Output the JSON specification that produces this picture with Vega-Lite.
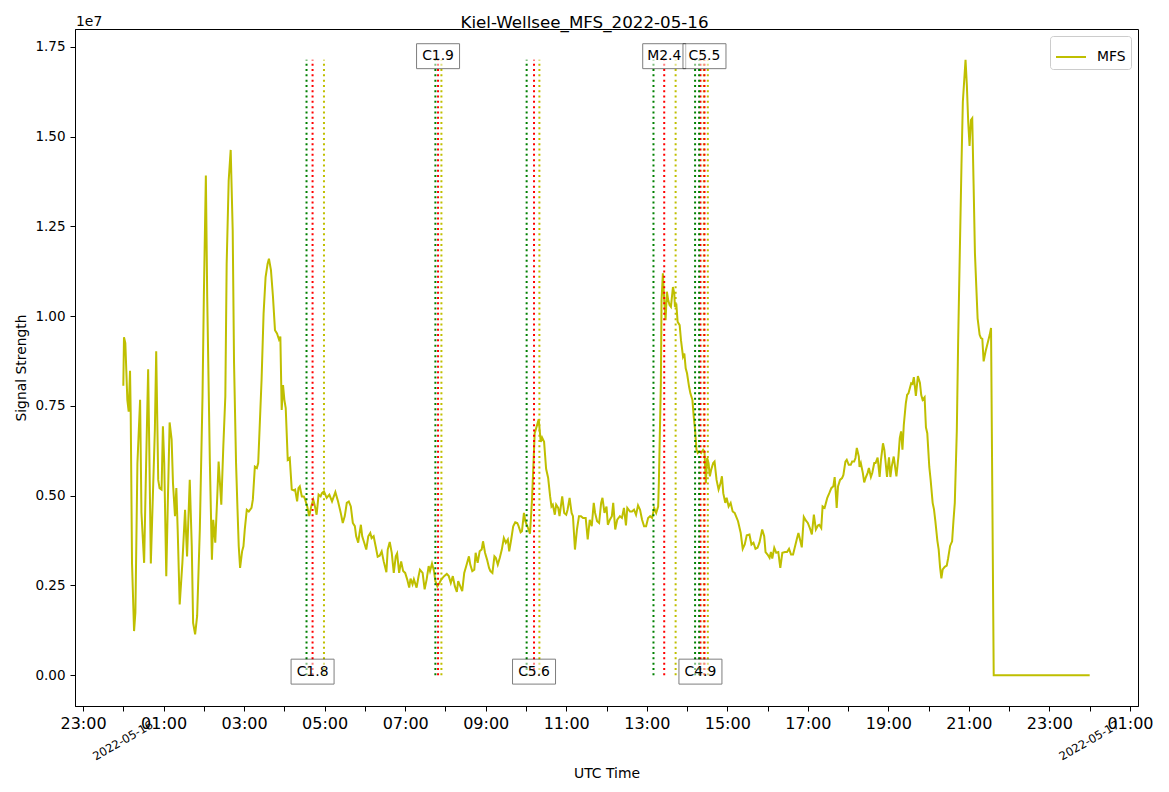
{
  "$schema": "https://vega.github.io/schema/vega-lite/v6.json",
  "width": 1063,
  "height": 677,
  "autosize": {"type": "none"},
  "padding": {"left": 75, "top": 29, "right": 31, "bottom": 86},
  "background": "white",
  "title": {
    "text": "Kiel-Wellsee_MFS_2022-05-16",
    "fontSize": 16.7,
    "fontWeight": "normal",
    "color": "black",
    "font": "DejaVu Sans",
    "anchor": "middle",
    "offset": 0,
    "dx": -22,
    "dy": 17
  },
  "datasets": {
    "signal": [
      {"m":0,"s":8060000},{"m":1,"s":9410000},{"m":3,"s":9250000},{"m":6,"s":7670000},{"m":8,"s":7340000},{"m":10,"s":8480000},{"m":11,"s":7300000},{"m":13,"s":3100000},{"m":16,"s":1230000},{"m":18,"s":1750000},{"m":21,"s":5900000},{"m":25,"s":7670000},{"m":27,"s":4530000},{"m":31,"s":3130000},{"m":34,"s":5900000},{"m":37,"s":8520000},{"m":39,"s":5900000},{"m":41,"s":3110000},{"m":44,"s":4980000},{"m":47,"s":6830000},{"m":49,"s":9020000},{"m":52,"s":5440000},{"m":54,"s":5210000},{"m":57,"s":5170000},{"m":59,"s":6930000},{"m":61,"s":5900000},{"m":64,"s":2760000},{"m":66,"s":4530000},{"m":69,"s":7040000},{"m":72,"s":6560000},{"m":74,"s":5350000},{"m":77,"s":4430000},{"m":79,"s":5210000},{"m":81,"s":4060000},{"m":84,"s":1970000},{"m":88,"s":3130000},{"m":92,"s":4610000},{"m":95,"s":3310000},{"m":99,"s":5440000},{"m":102,"s":3590000},{"m":104,"s":1460000},{"m":107,"s":1140000},{"m":110,"s":1650000},{"m":114,"s":4060000},{"m":118,"s":7760000},{"m":120,"s":10540000},{"m":123,"s":13920000},{"m":125,"s":10540000},{"m":129,"s":5900000},{"m":132,"s":3220000},{"m":134,"s":4330000},{"m":137,"s":3690000},{"m":140,"s":4980000},{"m":142,"s":5950000},{"m":146,"s":4750000},{"m":149,"s":6370000},{"m":152,"s":7760000},{"m":154,"s":11460000},{"m":157,"s":13780000},{"m":160,"s":14630000},{"m":163,"s":12390000},{"m":165,"s":8690000},{"m":168,"s":5900000},{"m":170,"s":4700000},{"m":172,"s":3590000},{"m":174,"s":2990000},{"m":177,"s":3450000},{"m":179,"s":3590000},{"m":181,"s":4060000},{"m":184,"s":4610000},{"m":187,"s":4560000},{"m":191,"s":4660000},{"m":193,"s":4890000},{"m":196,"s":5810000},{"m":199,"s":5770000},{"m":201,"s":5910000},{"m":203,"s":6830000},{"m":206,"s":8220000},{"m":209,"s":10070000},{"m":212,"s":11090000},{"m":215,"s":11460000},{"m":217,"s":11600000},{"m":220,"s":11280000},{"m":223,"s":10540000},{"m":226,"s":9610000},{"m":229,"s":9520000},{"m":232,"s":9350000},{"m":234,"s":9430000},{"m":236,"s":7390000},{"m":238,"s":8080000},{"m":240,"s":7670000},{"m":242,"s":7440000},{"m":245,"s":6000000},{"m":248,"s":6050000},{"m":251,"s":5170000},{"m":254,"s":5150000},{"m":256,"s":5170000},{"m":259,"s":4840000},{"m":261,"s":5210000},{"m":263,"s":5260000},{"m":266,"s":4980000},{"m":269,"s":4980000},{"m":271,"s":4890000},{"m":274,"s":4700000},{"m":277,"s":4430000},{"m":278,"s":4520000},{"m":280,"s":4700000},{"m":283,"s":4890000},{"m":285,"s":4750000},{"m":288,"s":4470000},{"m":291,"s":5030000},{"m":294,"s":4980000},{"m":296,"s":5070000},{"m":299,"s":5120000},{"m":303,"s":4940000},{"m":307,"s":5030000},{"m":311,"s":4840000},{"m":316,"s":5100000},{"m":320,"s":4840000},{"m":324,"s":4520000},{"m":327,"s":4240000},{"m":330,"s":4430000},{"m":333,"s":4800000},{"m":336,"s":4840000},{"m":339,"s":4700000},{"m":342,"s":4240000},{"m":345,"s":4150000},{"m":347,"s":3870000},{"m":350,"s":3690000},{"m":352,"s":3960000},{"m":354,"s":4190000},{"m":356,"s":3870000},{"m":359,"s":3690000},{"m":362,"s":3500000},{"m":365,"s":3870000},{"m":368,"s":3960000},{"m":370,"s":3820000},{"m":373,"s":3870000},{"m":376,"s":3590000},{"m":379,"s":3300000},{"m":382,"s":3330000},{"m":385,"s":3450000},{"m":388,"s":3170000},{"m":392,"s":2870000},{"m":394,"s":3500000},{"m":397,"s":3710000},{"m":400,"s":3410000},{"m":403,"s":2850000},{"m":406,"s":3310000},{"m":408,"s":3390000},{"m":411,"s":2850000},{"m":414,"s":3170000},{"m":417,"s":2900000},{"m":420,"s":2850000},{"m":423,"s":2670000},{"m":426,"s":2440000},{"m":428,"s":2690000},{"m":431,"s":2530000},{"m":433,"s":2670000},{"m":437,"s":2440000},{"m":440,"s":2760000},{"m":442,"s":2940000},{"m":446,"s":2850000},{"m":449,"s":2390000},{"m":452,"s":2670000},{"m":455,"s":3040000},{"m":457,"s":2900000},{"m":460,"s":3110000},{"m":463,"s":2900000},{"m":465,"s":2620000},{"m":468,"s":2480000},{"m":471,"s":2570000},{"m":474,"s":2670000},{"m":478,"s":2760000},{"m":482,"s":2820000},{"m":485,"s":2760000},{"m":488,"s":2570000},{"m":491,"s":2760000},{"m":494,"s":2480000},{"m":497,"s":2320000},{"m":499,"s":2620000},{"m":502,"s":2480000},{"m":505,"s":2340000},{"m":508,"s":2850000},{"m":511,"s":3040000},{"m":515,"s":3310000},{"m":517,"s":3080000},{"m":520,"s":2900000},{"m":523,"s":2940000},{"m":525,"s":3410000},{"m":528,"s":3130000},{"m":531,"s":3450000},{"m":534,"s":3500000},{"m":536,"s":3730000},{"m":539,"s":3410000},{"m":542,"s":3220000},{"m":545,"s":2990000},{"m":547,"s":2900000},{"m":550,"s":2850000},{"m":553,"s":3310000},{"m":555,"s":3270000},{"m":558,"s":3080000},{"m":561,"s":3270000},{"m":564,"s":3500000},{"m":567,"s":3820000},{"m":570,"s":3690000},{"m":573,"s":3780000},{"m":575,"s":3450000},{"m":578,"s":3780000},{"m":581,"s":4150000},{"m":584,"s":4260000},{"m":587,"s":4240000},{"m":589,"s":4150000},{"m":592,"s":3980000},{"m":594,"s":4010000},{"m":597,"s":4520000},{"m":599,"s":4290000},{"m":603,"s":4100000},{"m":606,"s":3940000},{"m":609,"s":4890000},{"m":613,"s":6740000},{"m":616,"s":6930000},{"m":619,"s":7130000},{"m":622,"s":6500000},{"m":624,"s":6620000},{"m":627,"s":6500000},{"m":630,"s":5750000},{"m":633,"s":5500000},{"m":636,"s":4980000},{"m":638,"s":4700000},{"m":640,"s":4750000},{"m":643,"s":4470000},{"m":645,"s":4750000},{"m":648,"s":4660000},{"m":650,"s":4430000},{"m":654,"s":4980000},{"m":657,"s":4520000},{"m":660,"s":4470000},{"m":662,"s":4610000},{"m":665,"s":4940000},{"m":668,"s":4520000},{"m":670,"s":4430000},{"m":673,"s":3500000},{"m":676,"s":4060000},{"m":679,"s":4430000},{"m":682,"s":4430000},{"m":685,"s":4380000},{"m":689,"s":4380000},{"m":692,"s":3780000},{"m":695,"s":4330000},{"m":698,"s":4150000},{"m":701,"s":4800000},{"m":703,"s":4520000},{"m":706,"s":4290000},{"m":709,"s":4240000},{"m":712,"s":4800000},{"m":714,"s":4940000},{"m":717,"s":4520000},{"m":720,"s":4700000},{"m":722,"s":4190000},{"m":725,"s":4330000},{"m":728,"s":4430000},{"m":730,"s":4800000},{"m":733,"s":4060000},{"m":736,"s":4330000},{"m":740,"s":4430000},{"m":743,"s":4380000},{"m":746,"s":4660000},{"m":749,"s":4170000},{"m":751,"s":4660000},{"m":755,"s":4560000},{"m":758,"s":4560000},{"m":761,"s":4610000},{"m":764,"s":4470000},{"m":767,"s":4730000},{"m":770,"s":4610000},{"m":773,"s":4330000},{"m":776,"s":4150000},{"m":779,"s":4150000},{"m":782,"s":4380000},{"m":785,"s":4430000},{"m":788,"s":4380000},{"m":791,"s":4660000},{"m":794,"s":4520000},{"m":797,"s":4700000},{"m":798,"s":5350000},{"m":801,"s":8130000},{"m":802,"s":10440000},{"m":804,"s":11190000},{"m":806,"s":10440000},{"m":808,"s":9890000},{"m":810,"s":10680000},{"m":812,"s":10440000},{"m":814,"s":10310000},{"m":816,"s":10260000},{"m":819,"s":10810000},{"m":821,"s":10630000},{"m":822,"s":10260000},{"m":824,"s":10350000},{"m":826,"s":9840000},{"m":829,"s":9750000},{"m":831,"s":9330000},{"m":834,"s":8870000},{"m":836,"s":8960000},{"m":838,"s":8550000},{"m":840,"s":8410000},{"m":843,"s":8040000},{"m":845,"s":7850000},{"m":848,"s":7670000},{"m":850,"s":7200000},{"m":852,"s":6830000},{"m":854,"s":6280000},{"m":856,"s":6190000},{"m":858,"s":6230000},{"m":861,"s":6190000},{"m":864,"s":6280000},{"m":866,"s":6230000},{"m":868,"s":5350000},{"m":870,"s":6050000},{"m":872,"s":5910000},{"m":874,"s":5540000},{"m":876,"s":5720000},{"m":879,"s":5910000},{"m":881,"s":5950000},{"m":884,"s":5440000},{"m":887,"s":5170000},{"m":890,"s":5350000},{"m":892,"s":5540000},{"m":894,"s":5070000},{"m":897,"s":4800000},{"m":899,"s":4940000},{"m":902,"s":4700000},{"m":905,"s":4800000},{"m":908,"s":4560000},{"m":911,"s":4520000},{"m":914,"s":4380000},{"m":916,"s":4290000},{"m":920,"s":3960000},{"m":923,"s":3520000},{"m":926,"s":3640000},{"m":929,"s":3900000},{"m":933,"s":3920000},{"m":936,"s":3640000},{"m":939,"s":3690000},{"m":942,"s":3520000},{"m":945,"s":3550000},{"m":948,"s":3700000},{"m":952,"s":4060000},{"m":955,"s":3870000},{"m":957,"s":3430000},{"m":960,"s":3360000},{"m":963,"s":3270000},{"m":965,"s":3430000},{"m":967,"s":3250000},{"m":970,"s":3550000},{"m":973,"s":3410000},{"m":976,"s":3430000},{"m":979,"s":2990000},{"m":982,"s":3410000},{"m":986,"s":3430000},{"m":989,"s":3430000},{"m":992,"s":3520000},{"m":995,"s":3360000},{"m":998,"s":3360000},{"m":1001,"s":3590000},{"m":1004,"s":3820000},{"m":1006,"s":3960000},{"m":1009,"s":3730000},{"m":1011,"s":3560000},{"m":1014,"s":4410000},{"m":1017,"s":4310000},{"m":1020,"s":4240000},{"m":1023,"s":4100000},{"m":1026,"s":3920000},{"m":1029,"s":4470000},{"m":1032,"s":4060000},{"m":1035,"s":4170000},{"m":1037,"s":4190000},{"m":1040,"s":4100000},{"m":1042,"s":4700000},{"m":1045,"s":4660000},{"m":1047,"s":4800000},{"m":1049,"s":4940000},{"m":1052,"s":5070000},{"m":1055,"s":5210000},{"m":1058,"s":5260000},{"m":1060,"s":5520000},{"m":1062,"s":4980000},{"m":1063,"s":4660000},{"m":1065,"s":5260000},{"m":1068,"s":5440000},{"m":1071,"s":5490000},{"m":1073,"s":5580000},{"m":1076,"s":5950000},{"m":1078,"s":6000000},{"m":1081,"s":5860000},{"m":1084,"s":5860000},{"m":1086,"s":5950000},{"m":1089,"s":5950000},{"m":1091,"s":6050000},{"m":1093,"s":6330000},{"m":1096,"s":6090000},{"m":1097,"s":5800000},{"m":1099,"s":5910000},{"m":1102,"s":5630000},{"m":1104,"s":5370000},{"m":1106,"s":5490000},{"m":1109,"s":5630000},{"m":1111,"s":5770000},{"m":1114,"s":5520000},{"m":1116,"s":5630000},{"m":1119,"s":5910000},{"m":1121,"s":5910000},{"m":1124,"s":6060000},{"m":1127,"s":5520000},{"m":1129,"s":6000000},{"m":1132,"s":6460000},{"m":1134,"s":6280000},{"m":1136,"s":5910000},{"m":1138,"s":5520000},{"m":1140,"s":5910000},{"m":1141,"s":6070000},{"m":1143,"s":5520000},{"m":1145,"s":5810000},{"m":1148,"s":6090000},{"m":1150,"s":5810000},{"m":1152,"s":5540000},{"m":1155,"s":6090000},{"m":1157,"s":6600000},{"m":1159,"s":6790000},{"m":1161,"s":6280000},{"m":1163,"s":6970000},{"m":1166,"s":7570000},{"m":1168,"s":7810000},{"m":1170,"s":7850000},{"m":1172,"s":7990000},{"m":1174,"s":8130000},{"m":1176,"s":8110000},{"m":1178,"s":8300000},{"m":1181,"s":7780000},{"m":1184,"s":8330000},{"m":1187,"s":8150000},{"m":1189,"s":7800000},{"m":1191,"s":7670000},{"m":1194,"s":7740000},{"m":1196,"s":6900000},{"m":1198,"s":6740000},{"m":1201,"s":5800000},{"m":1203,"s":5440000},{"m":1206,"s":4800000},{"m":1208,"s":4620000},{"m":1210,"s":4300000},{"m":1213,"s":3750000},{"m":1215,"s":3500000},{"m":1217,"s":3020000},{"m":1219,"s":2700000},{"m":1221,"s":2950000},{"m":1224,"s":3020000},{"m":1227,"s":3050000},{"m":1229,"s":3250000},{"m":1232,"s":3600000},{"m":1235,"s":3730000},{"m":1237,"s":4300000},{"m":1239,"s":4800000},{"m":1242,"s":6800000},{"m":1244,"s":9300000},{"m":1246,"s":11300000},{"m":1249,"s":14260000},{"m":1251,"s":15970000},{"m":1255,"s":17140000},{"m":1257,"s":16420000},{"m":1259,"s":15400000},{"m":1261,"s":14740000},{"m":1263,"s":15460000},{"m":1265,"s":15510000},{"m":1267,"s":13690000},{"m":1269,"s":11760000},{"m":1271,"s":10840000},{"m":1273,"s":9940000},{"m":1276,"s":9480000},{"m":1278,"s":9390000},{"m":1280,"s":9370000},{"m":1282,"s":8740000},{"m":1285,"s":9030000},{"m":1288,"s":9250000},{"m":1291,"s":9480000},{"m":1293,"s":9670000},{"m":1297,"s":0},{"m":1440,"s":0}
    ],
    "flares": [
      {"flare": "C1.8", "start": 273, "peak": 282, "end": 299},
      {"flare": "C1.9", "start": 465, "peak": 469, "end": 474},
      {"flare": "C5.6", "start": 601, "peak": 612, "end": 620},
      {"flare": "M2.4", "start": 790, "peak": 806, "end": 823},
      {"flare": "C4.9", "start": 852, "peak": 860, "end": 865},
      {"flare": "C5.5", "start": 858, "peak": 866, "end": 871}
    ],
    "dates": [
      {"m": 0, "date": "2022-05-16"},
      {"m": 1440, "date": "2022-05-17"}
    ]
  },
  "config": {
    "font": "DejaVu Sans",
    "view": {"stroke": "black", "strokeWidth": 1},
    "axis": {
      "grid": false,
      "domainColor": "black",
      "tickColor": "black",
      "labelColor": "black",
      "titleColor": "black",
      "titleFontWeight": "normal",
      "titleFontSize": 13.9,
      "labelFont": "DejaVu Sans",
      "titleFont": "DejaVu Sans",
      "tickSize": 5
    }
  },
  "layer": [
    {
      "data": {"name": "signal"},
      "mark": {"type": "line", "strokeWidth": 2},
      "encoding": {
        "x": {
          "field": "m",
          "type": "quantitative",
          "scale": {"domain": [-72, 1512], "nice": false, "zero": false},
          "axis": {
            "title": "UTC Time",
            "values": [-60, 0, 60, 120, 180, 240, 300, 360, 420, 480, 540, 600, 660, 720, 780, 840, 900, 960, 1020, 1080, 1140, 1200, 1260, 1320, 1380, 1440, 1500],
            "labelExpr": "(datum.value / 60 + 48) % 2 == 1 ? ((((datum.value / 60 + 48) % 24) < 10 ? '0' : '') + ((datum.value / 60 + 48) % 24) + ':00') : ''",
            "labelFontSize": 16,
            "labelPadding": 4,
            "labelFlush": false,
            "labelOverlap": false,
            "titlePadding": 35
          }
        },
        "y": {
          "field": "s",
          "type": "quantitative",
          "scale": {"domain": [-857000, 17997000], "nice": false, "zero": false},
          "axis": {
            "title": "Signal Strength",
            "values": [0, 2500000, 5000000, 7500000, 10000000, 12500000, 15000000, 17500000],
            "labelExpr": "format(datum.value / 10000000, '.2f')",
            "labelFontSize": 13.5,
            "labelPadding": 5,
            "labelFlush": false,
            "titlePadding": 6
          }
        },
        "color": {
          "datum": "MFS",
          "scale": {"range": ["#bfbf00"]},
          "legend": {
            "title": null,
            "orient": "top-right",
            "offset": 7,
            "padding": 5,
            "strokeColor": "#cccccc",
            "fillColor": "white",
            "cornerRadius": 3,
            "symbolType": "stroke",
            "symbolSize": 900,
            "symbolStrokeWidth": 2,
            "labelFontSize": 13.9,
            "labelColor": "black",
            "labelOffset": 10
          }
        }
      }
    },
    {
      "data": {"name": "flares"},
      "transform": [{"fold": ["start", "peak", "end"], "as": ["phase", "t"]}],
      "mark": {"type": "rule", "strokeWidth": 2, "strokeDash": [2, 3.3]},
      "encoding": {
        "x": {"field": "t", "type": "quantitative"},
        "y": {"datum": 0, "type": "quantitative"},
        "y2": {"datum": 17140000},
        "stroke": {
          "field": "phase",
          "type": "nominal",
          "scale": {"domain": ["start", "peak", "end"], "range": ["#008000", "#ff0000", "#bfbf00"]},
          "legend": null
        }
      }
    },
    {
      "data": {"name": "flares"},
      "transform": [
        {"window": [{"op": "row_number", "as": "n"}], "sort": [{"field": "peak"}]},
        {"filter": "datum.n % 2 == 1"}
      ],
      "encoding": {
        "x": {"field": "peak", "type": "quantitative"},
        "y": {"datum": 100000, "type": "quantitative"}
      },
      "layer": [
        {"mark": {"type": "point", "shape": "M-1,-0.58H1V0.58H-1Z", "size": 1849, "filled": true, "fill": "white", "stroke": "black", "strokeWidth": 1, "opacity": 0.5}},
        {"mark": {"type": "text", "fontSize": 13.9, "color": "black"}, "encoding": {"text": {"field": "flare"}}}
      ]
    },
    {
      "data": {"name": "flares"},
      "transform": [
        {"window": [{"op": "row_number", "as": "n"}], "sort": [{"field": "peak"}]},
        {"filter": "datum.n % 2 == 0"}
      ],
      "encoding": {
        "x": {"field": "peak", "type": "quantitative"},
        "y": {"datum": 17240000, "type": "quantitative"}
      },
      "layer": [
        {"mark": {"type": "point", "shape": "M-1,-0.58H1V0.58H-1Z", "size": 1849, "filled": true, "fill": "white", "stroke": "black", "strokeWidth": 1, "opacity": 0.5}},
        {"mark": {"type": "text", "fontSize": 13.9, "color": "black"}, "encoding": {"text": {"field": "flare"}}}
      ]
    },
    {
      "data": {"values": [{"label": "1e7"}]},
      "mark": {"type": "text", "align": "left", "baseline": "alphabetic", "fontSize": 13.9, "dx": 1, "dy": -3, "color": "black"},
      "encoding": {
        "x": {"datum": -72, "type": "quantitative"},
        "y": {"datum": 17997000, "type": "quantitative"},
        "text": {"field": "label"}
      }
    },
    {
      "data": {"name": "dates"},
      "mark": {"type": "text", "angle": 330, "fontSize": 11.6, "align": "center", "baseline": "middle", "color": "black"},
      "encoding": {
        "x": {"field": "m", "type": "quantitative"},
        "y": {"datum": -1840000, "type": "quantitative"},
        "text": {"field": "date"}
      }
    }
  ]
}
